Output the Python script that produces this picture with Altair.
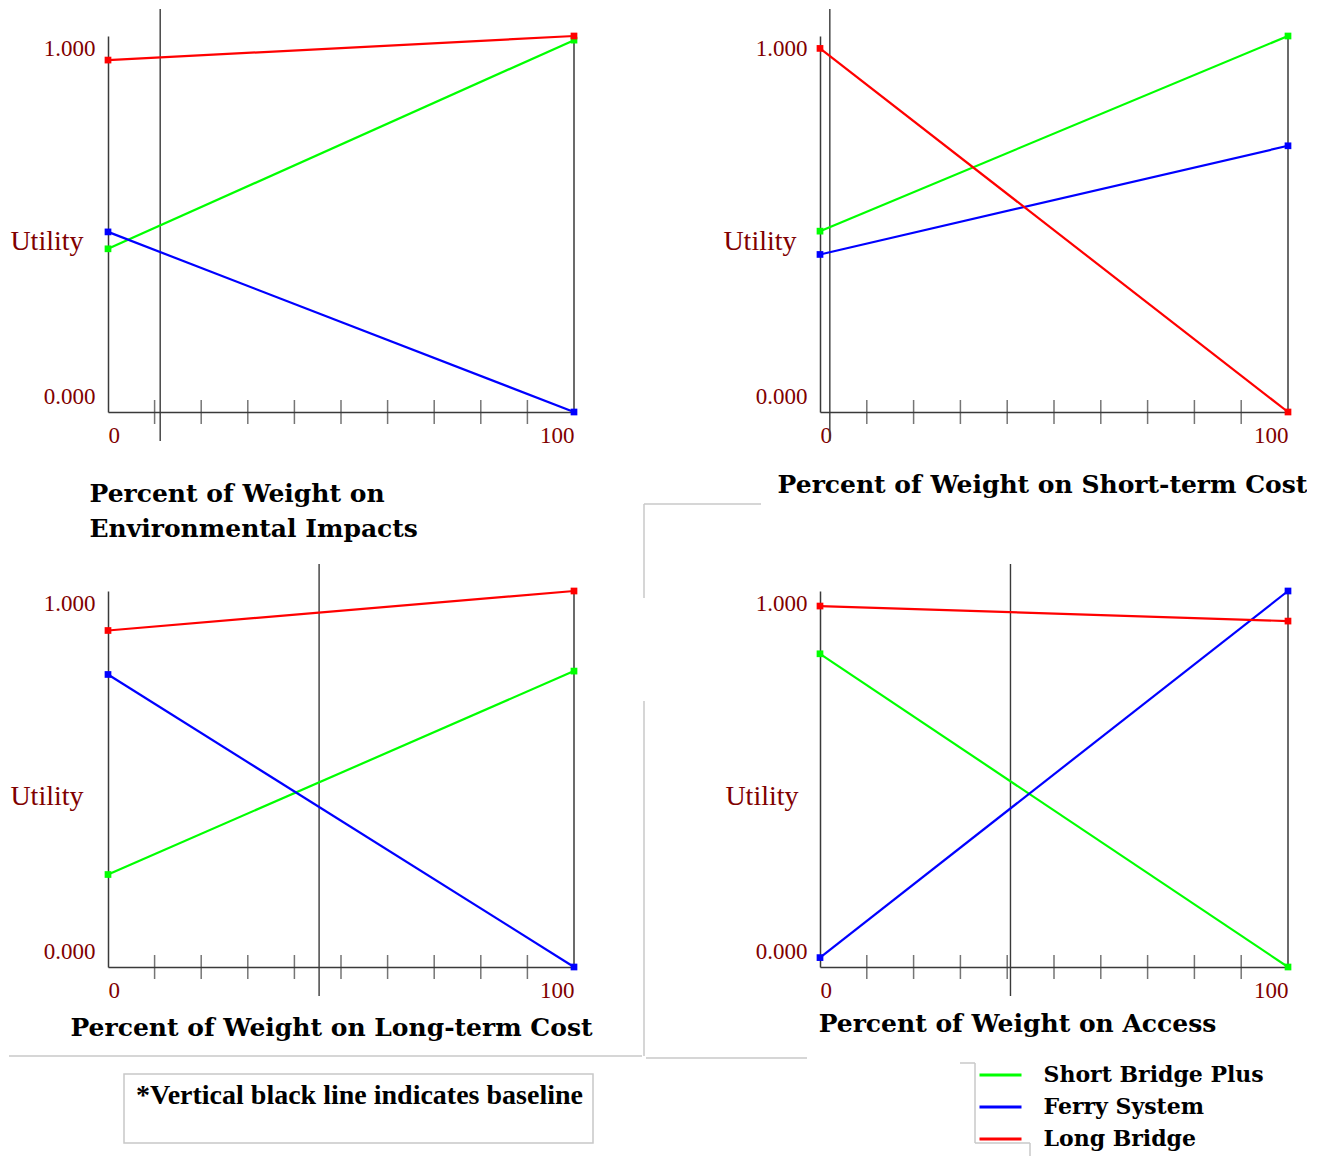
import altair as alt
import pandas as pd

# ---------------- data ----------------
panels = ["Environmental Impacts", "Short-term Cost", "Long-term Cost", "Access"]
series = ["Short Bridge Plus", "Ferry System", "Long Bridge"]
series_colors = ["#00ff00", "#0000ff", "#ff0000"]
weight_ends = [0, 100]

# utility of each alternative (Short Bridge Plus, Ferry System, Long Bridge)
env_at_0 = [0.434, 0.479, 0.936]
env_at_100 = [0.989, 0.0, 1.0]
short_cost_at_0 = [0.481, 0.419, 0.967]
short_cost_at_100 = [1.0, 0.708, 0.0]
long_cost_at_0 = [0.246, 0.778, 0.895]
long_cost_at_100 = [0.787, 0.0, 1.0]
access_at_0 = [0.833, 0.025, 0.960]
access_at_100 = [0.0, 1.0, 0.920]

baseline_weights = [11.2, 2.1, 45.3, 40.7]
minor_tick_weights = [10, 20, 30, 40, 50, 60, 70, 80, 90]
y_label_values = [0, 1]
x_label_values = [0, 100]
x_titles = [
    ["Percent of Weight on", "Environmental Impacts"],
    "Percent of Weight on Short-term Cost",
    "Percent of Weight on Long-term Cost",
    "Percent of Weight on Access",
]
y_title = "Utility"
footnote = "*Vertical black line indicates baseline"

starts = [env_at_0, short_cost_at_0, long_cost_at_0, access_at_0]
ends = [env_at_100, short_cost_at_100, long_cost_at_100, access_at_100]

# ---------------- styling ----------------
H = 376
AXIS = "#3a3a3a"
MAROON = "#7f0000"
GRAY = "#c8c8c8"
DUMMY = pd.DataFrame({"d": [0]})

COLOR_LEGEND = alt.Color(
    "series:N",
    scale=alt.Scale(domain=series, range=series_colors),
    legend=alt.Legend(
        orient="none", legendX=880.5, legendY=1027, title=None,
        symbolType="M-2,0H2", symbolSize=441, symbolStrokeWidth=3,
        labelFont="DejaVu Serif", labelFontWeight="bold", labelFontSize=22,
        labelColor="black", labelOffset=31, rowPadding=9, padding=0,
        labelLimit=400,
    ),
)
COLOR_PLAIN = alt.Color(
    "series:N", scale=alt.Scale(domain=series, range=series_colors), legend=None
)


def gray_rule(x1, x2, y1, y2):
    return alt.Chart(DUMMY).mark_rule(color=GRAY, strokeWidth=1.5).encode(
        x=alt.value(x1), x2=alt.value(x2), y=alt.value(y1), y2=alt.value(y2)
    )


def make_panel(i, width, title_x, title_align, title_y, ytitle_x, extra=()):
    rows = []
    for s, a, b in zip(series, starts[i], ends[i]):
        rows.append({"series": s, "weight": weight_ends[0], "utility": a})
        rows.append({"series": s, "weight": weight_ends[1], "utility": b})
    df = pd.DataFrame(rows)

    X = alt.X(
        "weight:Q",
        scale=alt.Scale(domain=[0, 100], nice=False, zero=False),
        axis=alt.Axis(
            values=x_label_values, labelFlush=True, ticks=False, tickSize=0,
            grid=False, domainColor=AXIS, domainWidth=1.5,
            labelFont="Liberation Serif", labelFontSize=23, labelColor=MAROON,
            labelPadding=12, title=x_titles[i], titleFont="DejaVu Serif",
            titleFontWeight="bold", titleFontSize=25, titleColor="black",
            titleX=title_x, titleY=title_y, titleAlign=title_align,
            titleBaseline="top", titleLineHeight=35, titleLimit=800,
        ),
    )
    Y = alt.Y(
        "utility:Q",
        scale=alt.Scale(domain=[0, 1], nice=False, zero=False),
        axis=alt.Axis(
            values=y_label_values, format=".3f", ticks=False, tickSize=0,
            grid=False, domainColor=AXIS, domainWidth=1.5,
            labelFont="Liberation Serif", labelFontSize=23, labelColor=MAROON,
            labelPadding=13,
            labelOffset={"condition": {"test": "datum.value === 0", "value": -16}, "value": 12},
            title=y_title, titleAngle=0, titleFont="Liberation Serif",
            titleFontWeight="normal", titleFontSize=28, titleColor=MAROON,
            titleAlign="right", titleBaseline="middle", titleX=ytitle_x, titleY=205,
        ),
    )

    baseline = alt.Chart(pd.DataFrame({"weight": [baseline_weights[i]]})).mark_rule(
        color=AXIS, strokeWidth=1.4
    ).encode(x=X, y=alt.value(-27), y2=alt.value(H + 29))
    edge = alt.Chart(
        pd.DataFrame({"weight": [weight_ends[1]], "utility": [0], "top": [1]})
    ).mark_rule(color=AXIS, strokeWidth=1.5).encode(x=X, y=Y, y2="top:Q")
    ticks = alt.Chart(
        pd.DataFrame({"weight": minor_tick_weights, "utility": [0] * len(minor_tick_weights)})
    ).mark_tick(orient="vertical", size=24, thickness=1.5, color=AXIS).encode(x=X, y=Y)
    lines = alt.Chart(df).mark_line(strokeWidth=2.2).encode(
        x=X, y=Y, color=COLOR_LEGEND, detail="series:N"
    )
    points = alt.Chart(df).mark_square(size=45, opacity=1).encode(
        x=X, y=Y, color=COLOR_PLAIN
    )
    return alt.layer(baseline, edge, ticks, lines, points, *extra).properties(
        width=width, height=H
    )


# decorations of the original page (table borders, footnote box)
bl_extra = [
    gray_rule(-99, 534, 465, 465),
    gray_rule(536, 536, 110, 465),
    gray_rule(536, 536, -87, 7),
    gray_rule(536, 653, -87, -87),
    alt.Chart(DUMMY).mark_rect(fill="white", stroke=GRAY, strokeWidth=1.5).encode(
        x=alt.value(16), x2=alt.value(485), y=alt.value(483), y2=alt.value(552)
    ),
    alt.Chart(DUMMY).mark_text(
        align="left", baseline="middle", font="Liberation Serif",
        fontWeight="bold", fontSize=28, color="black",
    ).encode(x=alt.value(28), y=alt.value(505), text=alt.value(footnote)),
]
br_extra = [
    gray_rule(-174, -13, 467, 467),
    gray_rule(140, 155, 472, 472),
    gray_rule(155, 155, 472, 552),
    gray_rule(155, 210, 552, 552),
    gray_rule(210, 210, 552, 580),
]

tl = make_panel(0, 466, -19, "left", 69, -25)
tr = make_panel(1, 468, 222, "center", 60, -24)
bl = make_panel(2, 466, 223, "center", 48, -25, bl_extra)
br = make_panel(3, 468, 197, "center", 44, -22, br_extra)

chart = (
    alt.concat(
        tl, tr, bl, br, columns=2, spacing={"row": 179, "column": 246},
        bounds="flush", padding=0, background="white",
    )
    .resolve_scale(x="independent", y="independent", color="shared")
    .resolve_legend(color="shared")
    .configure_view(stroke=None)
)

chart.save("out.html", embed_options={"renderer": "svg", "actions": False})
